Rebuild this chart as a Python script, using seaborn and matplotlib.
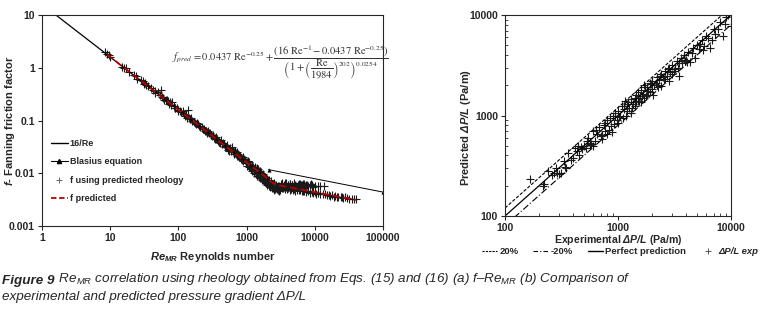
import matplotlib
matplotlib.use("Agg")
import matplotlib.pyplot as plt
import seaborn as sns
import numpy as np
from matplotlib.lines import Line2D

# ---------------- data ----------------
# (a) friction factor vs Re_MR
re_lam = [1.6, 2100]
f_lam = [10.0, 0.0076]
re_blasius = [2100, 100000]
f_blasius = [0.0117, 0.0044]
re_pred = [9, 20, 50, 100, 200, 500, 1000, 1500, 1984, 2200, 2500, 3000, 5000, 10000, 20000, 40000]
f_pred = [1.78, 0.8, 0.32, 0.16, 0.08, 0.032, 0.016, 0.0107, 0.0081, 0.0071, 0.0064, 0.0059,
          0.0052, 0.0044, 0.0037, 0.0031]

re_exp = [8.5, 9, 9.5, 10, 15, 16, 17, 19, 22, 24, 25, 28, 30, 31, 34, 36, 40, 42, 45, 50,
          53, 55, 58, 60, 65, 70, 72, 78, 80, 85, 90, 95, 100, 105, 110, 120, 125, 130, 140, 145,
          150, 160, 170, 180, 190, 200, 210, 220, 230, 240, 250, 260, 270, 280, 300, 310, 320, 340,
          350, 360, 380, 400, 420, 440, 450, 480, 500, 520, 550, 580, 600, 620, 650, 680, 700, 720,
          750, 780, 800, 850, 880, 900, 950,
          1000, 1000, 1050, 1100, 1100, 1150, 1200, 1200, 1250, 1300, 1300, 1350, 1400, 1400, 1450,
          1500, 1500, 1550, 1600, 1600, 1650, 1700, 1700, 1750, 1800, 1800, 1850, 1900, 1900, 1950,
          2000, 2000, 2100, 2100, 2200, 2200, 2300, 2300, 2400, 2400, 2500, 2500, 2600, 2700, 2800,
          2900, 3000, 3000,
          3200, 3500, 3800, 4000, 4300, 4600, 5000, 5300, 5600, 6000, 6500, 7000, 7500, 8000, 8500,
          9000, 10000, 11000, 12000, 13500,
          3200, 3500, 3800, 4000, 4500, 5000, 5500, 6000, 6500, 7000, 8000, 9000, 10000, 11000,
          12000, 14000, 16000, 18000, 20000, 22000, 25000, 28000, 30000, 35000, 40000,
          2700, 3100, 3400, 3600, 4200, 4800]
f_exp = [1.95, 1.85, 1.72, 1.62, 1.05, 0.98, 1.0, 0.84, 0.74, 0.7, 0.6, 0.58, 0.55, 0.5, 0.47,
         0.45, 0.42, 0.38, 0.36, 0.34, 0.3, 0.38, 0.28, 0.27, 0.25, 0.235, 0.21, 0.2, 0.22, 0.19,
         0.175, 0.17, 0.16, 0.15, 0.145, 0.135, 0.12, 0.125, 0.16, 0.11, 0.105, 0.1, 0.095, 0.085,
         0.088, 0.08, 0.075, 0.072, 0.068, 0.07, 0.063, 0.06, 0.062, 0.057, 0.053, 0.05, 0.052,
         0.047, 0.045, 0.048, 0.041, 0.04, 0.042, 0.036, 0.038, 0.033, 0.032, 0.035, 0.029, 0.03,
         0.027, 0.031, 0.025, 0.026, 0.023, 0.025, 0.022, 0.02, 0.021, 0.019, 0.02, 0.017, 0.018,
         0.016, 0.014, 0.017, 0.015, 0.013, 0.012, 0.014, 0.011, 0.013, 0.012, 0.01, 0.011, 0.0105,
         0.009, 0.012, 0.01, 0.0085, 0.011, 0.0095, 0.008, 0.009, 0.0085, 0.0075, 0.0095, 0.008,
         0.007, 0.0085, 0.0075, 0.0065, 0.008, 0.007, 0.006, 0.0075, 0.0065, 0.0062, 0.0055, 0.007,
         0.006, 0.0058, 0.0052, 0.0065, 0.0055, 0.005, 0.006, 0.0054, 0.0048, 0.0058, 0.0052,
         0.0063, 0.0061, 0.0065, 0.0059, 0.0062, 0.006, 0.0064, 0.0058, 0.0061, 0.0062, 0.0059,
         0.0063, 0.006, 0.0058, 0.0061, 0.0059, 0.0058, 0.0057, 0.0058, 0.0057,
         0.0056, 0.0054, 0.0055, 0.0052, 0.0051, 0.005, 0.0049, 0.0048, 0.0047, 0.0046, 0.0046,
         0.0044, 0.0044, 0.0042, 0.0041, 0.004, 0.0039, 0.0038, 0.0037, 0.0036, 0.0035, 0.0035,
         0.0034, 0.0033, 0.0032,
         0.0052, 0.0049, 0.0053, 0.0050, 0.0054, 0.0048]

# second batch of points from the denser parts of the band
re_exp2 = [32, 46, 62, 68, 75, 88, 98, 115, 135, 155,
           175, 195, 225, 245, 265, 290, 330, 370, 390, 410,
           460, 490, 530, 560, 640, 660, 690, 730, 760, 820,
           870, 920, 970, 1020, 1080, 1130, 1180, 1220, 1280, 1320,
           1380, 1420, 1480, 1520, 1580, 1620, 1680, 1720, 1780, 1820,
           1880, 1920, 1980, 2050, 2150, 2250, 2350, 2450, 2550, 2650,
           2750, 2850, 2950, 3300, 3700, 4100, 4400, 4700, 5100, 5800,
           6300, 6800, 7300, 7800, 8800, 9500, 3300, 3900, 4400, 5200,
           5900, 6800, 7500, 8500, 9500, 10500, 13000, 15000, 17000, 19000,
           21000, 24000, 26000, 32000, 38000]
f_exp2 = [0.52, 0.33, 0.24, 0.25, 0.22, 0.17, 0.15, 0.15, 0.11, 0.11,
          0.09, 0.085, 0.075, 0.062, 0.058, 0.058, 0.046, 0.045, 0.04, 0.038,
          0.036, 0.031, 0.028, 0.027, 0.026, 0.023, 0.024, 0.021, 0.023, 0.019,
          0.018, 0.019, 0.016, 0.0155, 0.016, 0.013, 0.0125, 0.0145, 0.0115, 0.013,
          0.0095, 0.0125, 0.0095, 0.0105, 0.0088, 0.0102, 0.0078, 0.0092, 0.0072, 0.0088,
          0.0068, 0.0082, 0.0063, 0.0068, 0.0058, 0.0068, 0.0053, 0.0062, 0.0049, 0.0058,
          0.0051, 0.0057, 0.0047, 0.0066, 0.0064, 0.006, 0.0063, 0.0061, 0.0059, 0.0063,
          0.006, 0.0062, 0.0057, 0.006, 0.0062, 0.0056, 0.0053, 0.0051, 0.0048, 0.0047,
          0.0048, 0.0046, 0.0045, 0.0043, 0.0043, 0.0041, 0.004, 0.0038, 0.0037, 0.0036,
          0.0036, 0.0035, 0.0034, 0.0033, 0.0032]

# (b) predicted vs experimental pressure gradient
dp_exp = [165, 215, 220, 240, 260, 270, 280, 300, 310, 340, 350, 360, 380, 420, 430, 450, 470,
          480, 500, 520, 540, 560, 580, 600, 600, 620, 650, 680, 700, 720, 750, 770, 800, 800, 830,
          850, 880, 900, 920, 950, 980, 1000, 1000, 1050, 1080, 1100, 1120, 1150, 1200, 1200, 1250,
          1300, 1300, 1350, 1400, 1400, 1450, 1500, 1500, 1550, 1600, 1600, 1650, 1700, 1700, 1800,
          1800, 1850, 1900, 1900, 2000, 2000, 2050, 2100, 2200, 2200, 2300, 2400, 2400, 2500, 2600,
          2600, 2700, 2800, 2800, 2900, 3000, 3000, 3200, 3300, 3400, 3500, 3600, 3700, 3800, 4000,
          4200, 4300, 4500, 4800, 5000, 5200, 5500, 5800, 6000, 6500, 7000, 7200, 8000, 8500, 9000,
          9500, 10000,
          290, 330, 400, 440, 530, 570, 640, 720, 760, 860,
          940, 1030, 1130, 1180, 1230, 1330, 1430, 1530, 1630, 1730,
          1760, 1950, 2150, 2250, 2350, 2550, 2750, 3100, 3450, 3900,
          4100, 4600, 5300, 5600, 6200, 6800, 7600, 8800]
dp_pred = [235, 200, 210, 280, 255, 265, 300, 260, 270, 305, 300, 420, 360, 470, 440, 400, 490,
           460, 500, 470, 600, 510, 520, 500, 700, 560, 650, 760, 620, 580, 800, 700, 900, 660, 720,
           950, 680, 1000, 820, 1050, 900, 850, 1100, 1000, 1250, 950, 1150, 1400, 1100, 1300, 1200,
           1450, 1050, 1300, 1500, 1250, 1350, 1700, 1400, 1550, 1800, 1350, 1650, 2000, 1500, 1900,
           1600, 1750, 2100, 1700, 2200, 1850, 1600, 2000, 2400, 2000, 2250, 2600, 1950, 2400, 2800,
           2300, 2500, 3000, 2200, 2700, 3200, 2600, 2900, 3500, 3000, 2500, 3700, 3300, 4000, 3600,
           4300, 3400, 4200, 3700, 5000, 4600, 5600, 4900, 6200, 4700, 7200, 6500, 8500, 6200, 9500,
           10000, 7800,
           270, 350, 380, 500, 560, 530, 720, 640, 850, 780,
           1000, 960, 1250, 1000, 1350, 1200, 1600, 1400, 1550, 1900,
           1550, 2050, 2100, 1900, 2500, 2300, 2900, 2800, 3300, 3500,
           3400, 4700, 5200, 4500, 5900, 5600, 7300, 8200]
dp_range = [100, 10000]
band_ratio = [1.2, 0.8]

x_ticks_a = [1, 10, 100, 1000, 10000, 100000]
x_labels_a = ["1", "10", "100", "1000", "10000", "100000"]
y_ticks_a = [0.001, 0.01, 0.1, 1, 10]
y_labels_a = ["0.001", "0.01", "0.1", "1", "10"]
ticks_b = [100, 1000, 10000]
labels_b = ["100", "1000", "10000"]

# ---------------- style ----------------
sns.set_style("ticks")
plt.rcParams["font.family"] = ["Liberation Sans", "DejaVu Sans"]
plt.rcParams["mathtext.fontset"] = "custom"
plt.rcParams["mathtext.rm"] = "Liberation Sans"
plt.rcParams["mathtext.it"] = "Liberation Sans:italic"
plt.rcParams["mathtext.bf"] = "Liberation Sans:bold:italic"

fig = plt.figure(figsize=(7.69, 3.12), dpi=100)
ax1 = fig.add_axes([0.0546, 0.2756, 0.4434, 0.6763])
ax2 = fig.add_axes([0.6567, 0.3077, 0.2939, 0.6442])

#################################################
# (a) f - Re_MR
#################################################
sns.lineplot(x=re_lam, y=f_lam, ax=ax1, color="black", linewidth=0.9, sort=False)
sns.lineplot(x=re_blasius, y=f_blasius, ax=ax1, color="black", linewidth=0.7,
             marker="^", markersize=3, markeredgewidth=0, sort=False)
sns.scatterplot(x=re_exp + re_exp2, y=f_exp + f_exp2, ax=ax1, marker="+", color="#1a1a1a",
                s=30, linewidth=0.8)
sns.lineplot(x=re_pred, y=f_pred, ax=ax1, color="#c00000", linewidth=1.3,
             linestyle=(0, (4, 2)), sort=False)

ax1.set_xscale("log")
ax1.set_yscale("log")
ax1.set_xlim(1, 100000)
ax1.set_ylim(0.001, 10)
ax1.set_xticks(x_ticks_a, x_labels_a)
ax1.set_yticks(y_ticks_a, y_labels_a)
ax1.tick_params(which="minor", length=0)
ax1.tick_params(which="major", length=3, width=0.8, labelsize=7.5, pad=2)
for lab in ax1.get_xticklabels() + ax1.get_yticklabels():
    lab.set_fontweight("bold")
ax1.set_xlabel(r"$\mathbf{Re}_{\mathbf{MR}}$ Reynolds number", fontsize=8, fontweight="bold", labelpad=5)
ax1.set_ylabel(r"$\mathbf{f}$- Fanning friction factor", fontsize=8, fontweight="bold")
ax1.yaxis.set_label_coords(-0.074, 0.5)

ax1.text(0.70, 0.775,
         r"$f_{pred}\,=0.0437\ \mathrm{Re}^{-0.25}+\dfrac{\left(16\ \mathrm{Re}^{-1}-0.0437\ \mathrm{Re}^{-0.25}\right)}"
         r"{\left(1+\left(\dfrac{\mathrm{Re}}{1984}\right)^{202}\right)^{0.0254}}$",
         transform=ax1.transAxes, ha="center", va="center", fontsize=7.6, color="#333333",
         math_fontfamily="stix")

handles_a = [
    Line2D([], [], color="black", linewidth=1.0),
    Line2D([], [], color="black", linewidth=0.8, marker="^", markersize=3, markevery=[1]),
    Line2D([], [], color="#666666", linestyle="none", marker="+", markersize=5, markeredgewidth=0.7),
    Line2D([], [], color="#c00000", linewidth=1.3, linestyle=(0, (3, 1.5))),
]
labels_a = ["16/Re", "Blasius equation", "f using predicted rheology", "f predicted"]
leg1 = ax1.legend(handles_a, labels_a, loc="center left", bbox_to_anchor=(0.015, 0.26),
                  frameon=False, fontsize=6.5, handlelength=1.9, handletextpad=0.2,
                  labelspacing=1.05, borderaxespad=0)
for t in leg1.get_texts():
    t.set_fontweight("bold")

#################################################
# (b) predicted vs experimental dP/L
#################################################
sns.lineplot(x=dp_range, y=[v * band_ratio[0] for v in dp_range], ax=ax2, color="black",
             linewidth=0.8, linestyle=(0, (3, 1.5)))
sns.lineplot(x=dp_range, y=[v * band_ratio[1] for v in dp_range], ax=ax2, color="black",
             linewidth=0.8, linestyle=(0, (6, 2, 1, 2)))
sns.lineplot(x=dp_range, y=dp_range, ax=ax2, color="black", linewidth=0.9)
sns.scatterplot(x=dp_exp, y=dp_pred, ax=ax2, marker="+", color="#1a1a1a", s=28, linewidth=0.8)

ax2.set_xscale("log")
ax2.set_yscale("log")
ax2.set_xlim(100, 10000)
ax2.set_ylim(100, 10000)
ax2.set_xticks(ticks_b, labels_b)
ax2.set_yticks(ticks_b, labels_b)
ax2.tick_params(which="major", length=3, width=0.8, labelsize=7.5, pad=2)
ax2.tick_params(which="minor", direction="in", length=2.5, width=0.6)
for lab in ax2.get_xticklabels() + ax2.get_yticklabels():
    lab.set_fontweight("bold")
ax2.set_xlabel(r"Experimental $\mathbf{\Delta P/L}$ (Pa/m)", fontsize=7.6, fontweight="bold", labelpad=0)
ax2.set_ylabel(r"Predicted $\mathbf{\Delta P/L}$ (Pa/m)", fontsize=8, fontweight="bold")
ax2.yaxis.set_label_coords(-0.142, 0.44)

handles_b = [
    Line2D([], [], color="black", linewidth=0.8, linestyle=(0, (2, 1))),
    Line2D([], [], color="black", linewidth=0.8, linestyle=(0, (4, 2, 1, 2))),
    Line2D([], [], color="black", linewidth=1.0),
    Line2D([], [], color="#555555", linestyle="none", marker="+", markersize=4, markeredgewidth=0.7),
]
labels_b2 = ["20%", "-20%", "Perfect prediction", "\u0394P/L exp"]
leg2 = fig.legend(handles_b, labels_b2, loc="center", bbox_to_anchor=(620 / 769, 1 - 252 / 312),
                  ncol=4, frameon=False, fontsize=6.8, handlelength=1.6, handletextpad=0.2,
                  columnspacing=1.6)
for t in leg2.get_texts():
    t.set_fontweight("bold")
leg2.get_texts()[3].set_style("italic")

#################################################
# caption
#################################################
t1 = fig.text(0.003, 1 - 284 / 312, "Figure 9", fontsize=9.7, fontweight="bold", style="italic")
fig.text(0.003, 1 - 300 / 312, "experimental and predicted pressure gradient \u0394P/L",
         fontsize=9.7, style="italic")
ax1.annotate(r" $\mathit{Re}_{MR}$ correlation using rheology obtained from Eqs. (15) and (16) (a) f"
             "\u2013" r"$\mathit{Re}_{MR}$ (b) Comparison of",
             xy=(1, 0), xycoords=t1, va="bottom", ha="left", fontsize=9.7, style="italic",
             annotation_clip=False)

fig.savefig("out.png", dpi=100)
